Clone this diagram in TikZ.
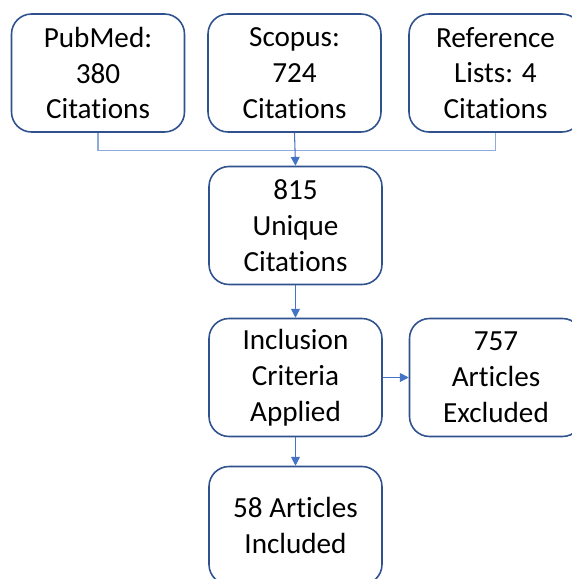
\documentclass[tikz,border=0pt]{standalone}
\usepackage{fontspec}
\setmainfont{Carlito}[Ligatures=NoCommon]
\usetikzlibrary{arrows.meta}
\definecolor{boxline}{HTML}{2F528F}
\definecolor{linkline}{HTML}{8FAADC}
\definecolor{arrowline}{HTML}{4472C4}
\tikzset{
	flowbox/.style={draw=boxline, line width=0.9pt, rounded corners=0.4cm, fill=white,
		minimum width=3.46cm, minimum height=2.36cm, align=center,
		font=\fontsize{16.6pt}{20.4pt}\selectfont},
	flowarrow/.style={draw=arrowline, line width=0.6pt, -{Triangle[length=5pt,width=5pt]}}
}

\begin{document}
\begin{tikzpicture}[x=0.02cm, y=-0.02cm]
\useasboundingbox (0,0) rectangle (572,579);
\clip (0,0) rectangle (572,579);
% sources
\node [flowbox] (pubmed) at (98,73) {PubMed:\\380\\Citations};
\node [flowbox] (scopus) at (294.5,73) {Scopus:\\724\\Citations};
\node [flowbox] (refs) at (495.5,73) {Reference\\Lists: 4\\Citations};
% screening
\node [flowbox] (unique) at (295.5,225.5) {815\\Unique\\Citations};
\node [flowbox] (incl) at (295.5,377.5) {Inclusion\\Criteria\\Applied};
\node [flowbox] (excl) at (496,377.5) {757\\Articles\\Excluded};
\node [flowbox] (final) at (295.5,525.5) {58 Articles\\Included};
% connectors
\draw [linkline, line width=0.6pt] (pubmed.south) -- ++(0,18) -| (refs.south);
\draw [flowarrow] (scopus.south) -- (unique.north);
\draw [flowarrow] (unique.south) -- (incl.north);
\draw [flowarrow] (incl.east) -- (excl.west);
\draw [flowarrow] (incl.south) -- (final.north);
\end{tikzpicture}
\end{document}
